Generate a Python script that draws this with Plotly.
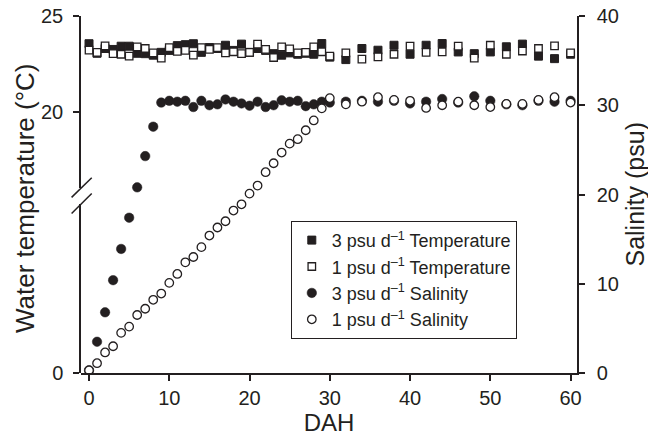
import plotly.graph_objects as go

# ---------------- data ----------------
days = list(range(0, 31)) + list(range(32, 61, 2))

temp_3psu = [23.55, 23.05, 23.30, 23.25, 23.42, 23.42, 23.05, 23.03, 22.95, 23.10,
             23.20, 23.45, 23.50, 23.55, 23.10, 23.35, 23.30, 23.47, 23.20, 23.53,
             23.10, 23.30, 23.20, 23.03, 22.95, 23.07, 23.00, 23.05, 23.00, 23.56,
             22.85,
             22.72, 23.30, 23.21, 23.47, 23.00, 23.47, 23.56, 23.12, 23.03, 23.12,
             23.39, 23.53, 22.90, 22.77, 23.00]

temp_1psu = [23.21, 23.10, 23.44, 23.03, 23.00, 22.90, 23.38, 23.30, 23.07, 22.80,
             23.35, 23.15, 23.20, 22.95, 23.35, 23.25, 23.35, 23.07, 23.13, 23.03,
             23.10, 23.53, 23.25, 22.83, 23.39, 23.28, 23.07, 23.10, 23.39, 23.13,
             22.90,
             23.07, 22.74, 22.86, 23.00, 23.42, 23.10, 23.12, 23.42, 22.80, 23.47,
             23.00, 23.17, 23.30, 23.44, 23.07]

sal_3psu = [0.3, 3.5, 6.8, 10.4, 13.9, 17.4, 20.8, 24.3, 27.6, 30.3,
            30.5, 30.4, 30.5, 29.8, 30.5, 30.0, 30.1, 30.65, 30.4, 30.2,
            29.95, 30.4, 29.8, 30.0, 30.55, 30.4, 30.5, 29.9, 30.1, 30.4,
            30.3,
            30.4, 30.5, 30.4, 30.5, 30.2, 30.4, 30.7, 30.3, 31.0, 30.5,
            30.1, 30.0, 30.5, 30.4, 30.5]

sal_1psu = [0.3, 1.1, 2.3, 3.0, 4.5, 5.2, 6.5, 7.2, 8.2, 8.9,
            10.1, 11.1, 12.4, 13.0, 14.1, 15.4, 16.3, 17.0, 18.2, 18.9,
            20.1, 21.0, 22.5, 23.5, 24.7, 25.7, 26.2, 27.2, 28.3, 29.65,
            30.8,
            30.1, 30.4, 30.9, 30.6, 30.5, 29.7, 30.0, 30.4, 30.0, 29.8,
            30.15, 30.15, 30.6, 30.9, 30.3]

legend_names = ["3 psu d<sup>\u20131</sup> Temperature",
                "1 psu d<sup>\u20131</sup> Temperature",
                "3 psu d<sup>\u20131</sup> Salinity",
                "1 psu d<sup>\u20131</sup> Salinity"]

x_ticks = [0, 10, 20, 30, 40, 50, 60]
temp_ticks = [20, 25]
sal_ticks = [0, 10, 20, 30, 40]

# ---------------- style ----------------
INK = "#231f20"
FONT = "Liberation Sans, Arial, Helvetica, sans-serif"

fig = go.Figure()

fig.add_trace(go.Scatter(x=days, y=temp_3psu, mode="markers", name=legend_names[0],
                         yaxis="y2",
                         marker=dict(symbol="square", size=8, color=INK,
                                     line=dict(color=INK, width=1))))
fig.add_trace(go.Scatter(x=days, y=temp_1psu, mode="markers", name=legend_names[1],
                         yaxis="y2",
                         marker=dict(symbol="square", size=7.5, color="white",
                                     line=dict(color=INK, width=1.3))))
fig.add_trace(go.Scatter(x=days, y=sal_3psu, mode="markers", name=legend_names[2],
                         yaxis="y",
                         marker=dict(symbol="circle", size=9.5, color=INK,
                                     line=dict(color=INK, width=0.5))))
fig.add_trace(go.Scatter(x=days, y=sal_1psu, mode="markers", name=legend_names[3],
                         yaxis="y",
                         marker=dict(symbol="circle", size=8.5, color="white",
                                     line=dict(color=INK, width=1.3))))
# empty trace so the lower (broken) segment of the left axis gets drawn
fig.add_trace(go.Scatter(x=[], y=[], yaxis="y3", showlegend=False, hoverinfo="skip"))

axis_common = dict(showline=True, linewidth=1.5, linecolor=INK, ticks="outside",
                   ticklen=6, tickwidth=1.5, tickcolor=INK, showgrid=False,
                   zeroline=False, tickfont=dict(size=20, color=INK, family=FONT))

fig.update_layout(
    width=648, height=439,
    margin=dict(l=81, r=71, t=16, b=66),
    paper_bgcolor="white", plot_bgcolor="rgba(0,0,0,0)",
    font=dict(family=FONT, color=INK),
    showlegend=True,
    xaxis=dict(range=[-1.0, 60.8], tickvals=x_ticks, anchor="y",
               title=dict(text="DAH", font=dict(size=24, color=INK, family=FONT),
                          standoff=0),
               ticklabelstandoff=0, automargin=False,
               **axis_common),
    yaxis=dict(range=[0, 40], tickvals=sal_ticks, side="right", anchor="x",
               domain=[0, 1], ticklabelstandoff=8, automargin=False,
               **axis_common),
    yaxis2=dict(range=[16.0, 25.0], tickvals=temp_ticks, side="left", anchor="x",
                domain=[0.518, 1], ticklabelstandoff=6, automargin=False,
                **axis_common),
    yaxis3=dict(range=[0, 10], tickvals=[0], side="left", anchor="x",
                domain=[0, 0.473], ticklabelstandoff=6, automargin=False,
                **axis_common),
    legend=dict(x=0.423, y=0.426, xanchor="left", yanchor="top",
                bgcolor="white", bordercolor=INK, borderwidth=1,
                font=dict(size=18, color=INK, family=FONT),
                tracegroupgap=0),
)

# axis break marks on the left axis
for y0, y1 in [(0.492, 0.547), (0.447, 0.503)]:
    fig.add_shape(type="line", xref="paper", yref="paper",
                  x0=-0.019, x1=0.0216, y0=y0, y1=y1,
                  line=dict(color=INK, width=1.5))

fig.add_annotation(text="Water temperature (\u00b0C)", xref="paper", yref="paper",
                   x=-0.113, y=0.49, xanchor="center", yanchor="middle",
                   textangle=-90, showarrow=False,
                   font=dict(size=26, color=INK, family=FONT))

fig.add_annotation(text="Salinity (psu)", xref="paper", yref="paper",
                   x=1.115, y=0.5, xanchor="center", yanchor="middle",
                   textangle=-90, showarrow=False,
                   font=dict(size=25, color=INK, family=FONT))

# remove the browser's default 8 px body margin so the figure fills the window
fig.write_html("out.html",
               config={"displayModeBar": False},
               post_script="document.body.style.margin='0px';"
                           "document.body.style.overflow='hidden';")
